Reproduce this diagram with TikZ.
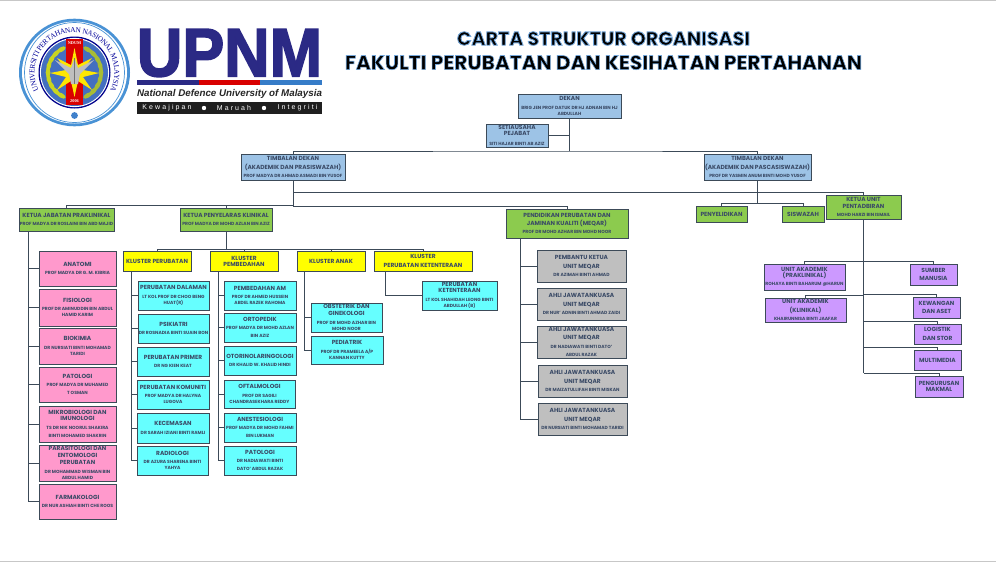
\documentclass[tikz,border=0pt]{standalone}
\usepackage{fontspec}
\usepackage{graphicx}
\usetikzlibrary{decorations.text}
\setmainfont{Poppins}[BoldFont=* Bold]
\newfontfamily\LS{Liberation Sans}
\newfontfamily\LSsp{Liberation Sans}[LetterSpace=30]
\newfontfamily\SRF{Liberation Serif}
\newfontfamily\TTL{Poppins}[UprightFont=* Bold]
\definecolor{tx}{HTML}{3A4A66}
\definecolor{ln}{HTML}{3C4A58}
\definecolor{fblue}{HTML}{9DC3E6}
\definecolor{fgreen}{HTML}{8CCB4E}
\definecolor{fyellow}{HTML}{FFFF00}
\definecolor{fcyan}{HTML}{66FFFF}
\definecolor{fpink}{HTML}{FF99CC}
\definecolor{fgray}{HTML}{BFBFBF}
\definecolor{fpurple}{HTML}{CC99FF}
\definecolor{upblue}{HTML}{2B2A85}
\newcommand\bx[7][fblue]{\node[boxnode,fill=#1,minimum width={(#5-#3)*1pt},minimum height={(#6-#4)*1pt}] (#2) at ({(#3+#5)/2},{(#4+#6)/2}) {#7};}
\newcommand\sn[1]{{\fontsize{4.5}{6}\selectfont #1}}
\newcommand\tn{\\[-2.3pt]}
\newcommand\mn{\\[-1.3pt]}
\tikzset{
  boxnode/.style={draw=ln,line width=0.9pt,inner sep=0pt,align=center,text=tx,font=\fontsize{5.9}{8.3}\selectfont\bfseries},
  conn/.style={draw=ln,line width=0.9pt}
}
\begin{document}
\begin{tikzpicture}[x=1pt,y=-1pt]
\useasboundingbox (0,0) rectangle (996,562);
\fill[white] (0,0) rectangle (996,562);
\fill[black!22] (0,0) rectangle (996,1.2);
\fill[black!22] (0,560.5) rectangle (996,562);

% ---- seal
\coordinate (sc) at (74.5,72.5);
\fill[cyan!60!blue!75] (sc) ellipse [x radius=55.5,y radius=53.8];
\fill[white] (sc) ellipse [x radius=52.5,y radius=51];
\draw[cyan!60!blue!75,line width=0.7pt] (sc) circle [radius=50];
\fill[blue!55!black] (sc) circle [radius=36];
\fill[white] (sc) circle [radius=34.6];
\fill[cyan!35!blue!80] (sc) circle [radius=33.5];
\path[postaction={decorate,decoration={text along path,raise=-3pt,text align=center,
  text={|\SRF\fontsize{7.4}{8}\selectfont\color{blue!60!black}|UNIVERSITI PERTAHANAN NASIONAL MALAYSIA}}}]
  (sc) ++(125:43) arc [start angle=125,end angle=415,radius=43];
\fill[red!85!black] (65.5,39) rectangle (83,105);
\foreach \a in {-60,-45,...,60}{
  \fill[yellow!85!green!90!black,rotate around={\a:(74.5,72.5)}] (48,72.5) ellipse [x radius=2.3,y radius=5];
  \fill[yellow!75!green!80!black,rotate around={\a:(74.5,72.5)}] (101,72.5) ellipse [x radius=2.3,y radius=5];
}
\fill[yellow!90!orange] (74.5,48) -- (78,65) -- (92,58) -- (83,70) -- (99,73) -- (83,77) -- (92,90) -- (78,81) -- (74.5,97) -- (71,81) -- (57,90) -- (66,77) -- (50,73) -- (66,70) -- (57,58) -- (71,65) -- cycle;
\fill[black!25] (74.5,58) -- (78,68) -- (94,60) -- (80,74) -- (78,84) -- (71,84) -- (69,74) -- (55,60) -- (71,68) -- cycle;
\draw[black!55,line width=0.5pt] (74.5,58) -- (74.5,84);
\node[text=white,font=\SRF\bfseries\fontsize{4.3}{5}\selectfont,inner sep=0pt] (sndum) at (74.5,43.5) {NDUM};
\node[text=white,font=\SRF\bfseries\fontsize{4.3}{5}\selectfont,inner sep=0pt] (syear) at (74.5,101.5) {2006};
\fill[cyan!50!blue!80] (74.5,115.5) circle [radius=3.4];

% ---- UPNM
\node[inner sep=0pt,text=upblue] (upnm) at (229.5,53) {\resizebox{185pt}{47pt}{\LS\bfseries\special{pdf:code 2 Tr 0.25 w 0.17 0.16 0.52 RG}UPNM\special{pdf:code 0 Tr}}};
\fill[upblue] (137,80) rectangle (199,85);
\fill[red!85!black] (199,80) rectangle (260,85);
\fill[cyan!50!blue!85] (260,80) rectangle (322,85);
\node[inner sep=0pt,text=black!85] (nduni) at (229.5,94) {\resizebox{185pt}{!}{\LS\bfseries\itshape National Defence University of Malaysia}};
\fill[black!88] (137,102) rectangle (322,114);
\node[inner sep=0pt,text=white,font=\LSsp\fontsize{7}{8}\selectfont] (m1) at (167,108) {Kewajipan};
\node[inner sep=0pt,text=white,font=\LSsp\fontsize{7}{8}\selectfont] (m2) at (234,108) {Maruah};
\node[inner sep=0pt,text=white,font=\LSsp\fontsize{7}{8}\selectfont] (m3) at (297.5,108) {Integriti};
\fill[white] (204,108) circle [radius=2.2];
\fill[white] (264,108) circle [radius=2.2];

% ---- title
\node[inner sep=0pt] (t1) at (603.5,38.5) {\resizebox{293pt}{!}{\TTL\special{pdf:code 2 Tr 0.45 w 0.45 0.65 0.85 RG}CARTA STRUKTUR ORGANISASI\special{pdf:code 0 Tr}}};
\node[inner sep=0pt] (t2) at (603.5,62.5) {\resizebox{517pt}{!}{\TTL\special{pdf:code 2 Tr 0.3 w 0.45 0.65 0.85 RG}FAKULTI PERUBATAN DAN KESIHATAN PERTAHANAN\special{pdf:code 0 Tr}}};

% ---- top
\bx{dekan}{518}{94}{621}{118}{DEKAN\\[0.6pt]\sn{BRIG JEN PROF DATUK DR HJ ADNAN BIN HJ}\tn\sn{ABDULLAH}}
\bx{seti}{486}{124}{548}{147}{SETIAUSAHA\tn PEJABAT\\[1.2pt]\sn{SITI HAJAR BINTI AB AZIZ}}
\bx{tda}{241}{154}{345}{180}{TIMBALAN DEKAN\\(AKADEMIK DAN PRASISWAZAH)\\\sn{PROF MADYA DR AHMAD ASMADI BIN YUSOF}}
\bx{tdb}{704}{154}{811}{180}{TIMBALAN DEKAN\\(AKADEMIK DAN PASCASISWAZAH)\\\sn{PROF DR YASMIN ANUM BINTI MOHD YUSOF}}
\bx[fgreen]{kjp}{19}{208}{114}{231}{KETUA JABATAN PRAKLINIKAL\\\sn{PROF MADYA DR ROSLAINI BIN ABD MAJID}}
\bx[fgreen]{kpk}{180}{208}{272}{231}{KETUA PENYELARAS KLINIKAL\\\sn{PROF MADYA DR MOHD AZLAN BIN AZIZ}}
\bx[fgreen]{meqar}{506}{209}{628}{238}{PENDIDIKAN PERUBATAN DAN\\JAMINAN KUALITI  (MEQAR)\\\sn{PROF DR MOHD AZHAR BIN MOHD NOOR}}
\bx[fgreen]{penye}{696}{206}{747}{222}{PENYELIDIKAN}
\bx[fgreen]{sisw}{782}{206}{824}{222}{SISWAZAH}
\bx[fgreen]{ku}{826}{195}{901}{219}{KETUA UNIT\mn PENTADBIRAN\\\sn{MOHD HARZI BIN ISMAIL}}

% ---- pink
\bx[fpink]{anat}{39}{251}{116}{286}{ANATOMI\\\sn{PROF MADYA DR G. M. KIBRIA}}
\bx[fpink]{fisi}{39}{289}{116}{326}{FISIOLOGI\\\sn{PROF DR AMINUDDIN BIN ABDUL}\tn\sn{HAMID KARIM}}
\bx[fpink]{biok}{39}{328}{116}{364}{BIOKIMIA\\\sn{DR NURSIATI BINTI MOHAMAD}\tn\sn{TARIDI}}
\bx[fpink]{pato}{39}{367}{116}{402}{PATOLOGI\\\sn{PROF MADYA DR  MUHAMED}\\\sn{T OSMAN}}
\bx[fpink]{mikr}{39}{406}{116}{442}{MIKROBIOLOGI DAN\tn IMUNOLOGI\\\sn{TS DR NIK  NOORUL SHAKIRA}\\\sn{BINTI MOHAMED SHAKRIN}}
\bx[fpink]{para}{39}{445}{116}{481}{PARASITOLOGI DAN\mn ENTOMOLOGI\mn PERUBATAN\\[1pt]\sn{DR MOHAMMAD WISMAN BIN}\tn\sn{ABDUL HAMID}}
\bx[fpink]{farm}{39}{484}{116}{519}{FARMAKOLOGI\\\sn{DR NUR ASHIAH BINTI CHE ROOS}}

% ---- clusters
\bx[fyellow]{kla}{123}{251}{191}{271}{KLUSTER PERUBATAN}
\bx[fyellow]{klb}{210}{251}{278}{271}{KLUSTER\tn PEMBEDAHAN}
\bx[fyellow]{klc}{297}{251}{365}{271}{KLUSTER ANAK}
\bx[fyellow]{kld}{374}{251}{472}{271}{KLUSTER\\PERUBATAN KETENTERAAN}

% ---- cyan col 1
\bx[fcyan]{ca}{138}{281}{209}{310}{PERUBATAN DALAMAN\\\sn{LT KOL PROF DR CHOO BENG}\tn\sn{HUAT(R)}}
\bx[fcyan]{cb}{138}{314}{209}{343}{PSIKIATRI\\\sn{DR ROSNADIA BINTI SUAIN BON}}
\bx[fcyan]{cc}{137}{347}{209}{376}{PERUBATAN PRIMER\\\sn{DR NG KIEN KEAT}}
\bx[fcyan]{cd}{137}{380}{209}{409}{PERUBATAN KOMUNITI\\\sn{PROF MADYA DR HALYNA}\tn\sn{LUGOVA}}
\bx[fcyan]{ce}{137}{413}{209}{443}{KECEMASAN\\\sn{DR SARAH IZIANI BINTI RAMLI}}
\bx[fcyan]{cf}{137}{446}{208}{475}{RADIOLOGI\\\sn{DR AZURA SHARENA BINTI}\tn\sn{YAHYA}}
% ---- cyan col 2
\bx[fcyan]{da}{224}{281}{296}{310}{PEMBEDAHAN AM\\\sn{PROF DR AHMED HUSSEIN}\tn\sn{ABDEL RAZEK RAHOMA}}
\bx[fcyan]{db}{224}{313}{296}{342}{ORTOPEDIK\\\sn{PROF MADYA DR MOHD AZLAN}\\\sn{BIN AZIZ}}
\bx[fcyan]{dc}{224}{346}{296}{375}{OTORINOLARINGOLOGI\\\sn{DR KHALID W. KHALID HINDI}}
\bx[fcyan]{dd}{224}{380}{295}{408}{OFTALMOLOGI\\\sn{PROF DR  SAGILI}\tn\sn{CHANDRASEKHARA REDDY}}
\bx[fcyan]{de}{224}{413}{296}{442}{ANESTESIOLOGI\\\sn{PROF MADYA DR  MOHD FAHMI}\\\sn{BIN LUKMAN}}
\bx[fcyan]{df}{224}{446}{296}{475}{PATOLOGI\\\sn{DR NADIAWATI BINTI}\\\sn{DATO' ABDUL RAZAK}}
% ---- cyan others
\bx[fcyan]{ea}{311}{303}{382}{332}{OBSTETRIK DAN\mn GINEKOLOGI\\\sn{PROF DR MOHD AZHAR BIN}\tn\sn{MOHD NOOR}}
\bx[fcyan]{eb}{311}{336}{383}{364}{PEDIATRIK\\\sn{PROF DR PRAMEELA A/P}\tn\sn{KANNAN KUTTY}}
\bx[fcyan]{fa}{422}{281}{497}{310}{PERUBATAN\tn KETENTERAAN\\[1pt]\sn{LT KOL SHAHIDAH LEONG BINTI}\tn\sn{ABDULLAH (B)}}

% ---- gray
\bx[fgray]{ga}{537}{250}{626}{282}{PEMBANTU KETUA\\UNIT MEQAR\\\sn{DR AZIMAH BINTI AHMAD}}
\bx[fgray]{gb}{537}{288}{626}{320}{AHLI JAWATANKUASA\\UNIT MEQAR\\\sn{DR NUR' ADNIN BINTI AHMAD ZAIDI}}
\bx[fgray]{gc}{537}{326}{626}{358}{AHLI JAWATANKUASA\\UNIT MEQAR\\\sn{DR NADIAWATI BINTI DATO'}\\\sn{ABDUL RAZAK}}
\bx[fgray]{gd}{538}{365}{627}{397}{AHLI JAWATANKUASA\\UNIT MEQAR\\\sn{DR MAIZATULLIFAH BINTI MISKAN}}
\bx[fgray]{ge}{538}{403}{627}{435}{AHLI JAWATANKUASA\\UNIT MEQAR\\\sn{DR NURSIATI BINTI MOHAMAD TARIDI}}

% ---- purple
\bx[fpurple]{pa}{764}{264}{845}{290}{UNIT AKADEMIK\tn(PRAKLINIKAL)\\\sn{ROHAYA BINTI BAHARUM @HARUN}}
\bx[fpurple]{pb}{765}{298}{846}{322}{UNIT AKADEMIK\\(KLINIKAL)\\\sn{KHAIRUNNISA BINTI JAAFAR}}
\bx[fpurple]{qa}{910}{264}{957}{285}{SUMBER\\MANUSIA}
\bx[fpurple]{qb}{913}{297}{960}{318}{KEWANGAN\\DAN ASET}
\bx[fpurple]{qc}{914}{324}{961}{344}{LOGISTIK\\DAN STOR}
\bx[fpurple]{qd}{914}{350}{961}{370}{MULTIMEDIA}
\bx[fpurple]{qe}{915}{376}{963}{397}{PENGURUSAN\tn MAKMAL}

% ---- connector joints
\coordinate (hdek) at (569.5,151);
\coordinate (ja) at (293,192);
\coordinate (jb) at (293,205.5);
\coordinate (jc) at (293,206.3);
\coordinate (jt) at (226,249);
\coordinate (jd) at (757.5,203);
\coordinate (ra) at (28,231);
\coordinate (rb) at (131,271);
\coordinate (rc) at (218,271);
\coordinate (rd) at (304,271);
\coordinate (re) at (385,271);
\coordinate (rf) at (520,238);
\coordinate (rg) at (863.5,373);
\coordinate (ha) at (863.5,261);
\coordinate (hb) at (863.5,295);
\coordinate (hc) at (863.5,294);
\coordinate (hd) at (863.5,321);
\coordinate (he) at (863.5,347);

\draw[conn] (dekan.south) -- (hdek);
\draw[conn] (seti.east) -- (seti.east -| dekan.south);
\draw[conn] (tda.north) |- (hdek) -| (tdb.north);
\draw[conn] (tda.south) -- (jc);
\draw[conn] (ja) -| (ku.north);
\draw[conn] (jb) -| (kjp.north);
\draw[conn] (jb) -| (kpk.north);
\draw[conn] (jc) -| (meqar.north);
\draw[conn] (tdb.south) -- (jd);
\draw[conn] (jd) -| (penye.north);
\draw[conn] (jd) -| (sisw.north);
\draw[conn] (kpk.south) -- (jt);
\draw[conn] (jt) -| (kla.north);
\draw[conn] (jt) -| (klb.north);
\draw[conn] (jt) -| (klc.north);
\draw[conn] (jt) -| (kld.north);
\foreach \n in {anat,fisi,biok,pato,mikr,para,farm} \draw[conn] (ra) |- (\n.west);
\foreach \n in {ca,cb,cc,cd,ce,cf} \draw[conn] (rb) |- (\n.west);
\foreach \n in {da,db,dc,dd,de,df} \draw[conn] (rc) |- (\n.west);
\foreach \n in {ea,eb} \draw[conn] (rd) |- (\n.west);
\draw[conn] (re) |- (fa.west);
\foreach \n in {ga,gb,gc,gd,ge} \draw[conn] (rf) |- (\n.west);
\draw[conn] (ku.south) -- (rg);
\draw[conn] (ha) -| (pa.north);
\draw[conn] (ha) -| (qa.north);
\draw[conn] (hb) -| (pb.north);
\draw[conn] (hc) -| (qb.north);
\draw[conn] (hd) -| (qc.north);
\draw[conn] (he) -| (qd.north);
\draw[conn] (rg) -| (qe.north);
\end{tikzpicture}
\end{document}
